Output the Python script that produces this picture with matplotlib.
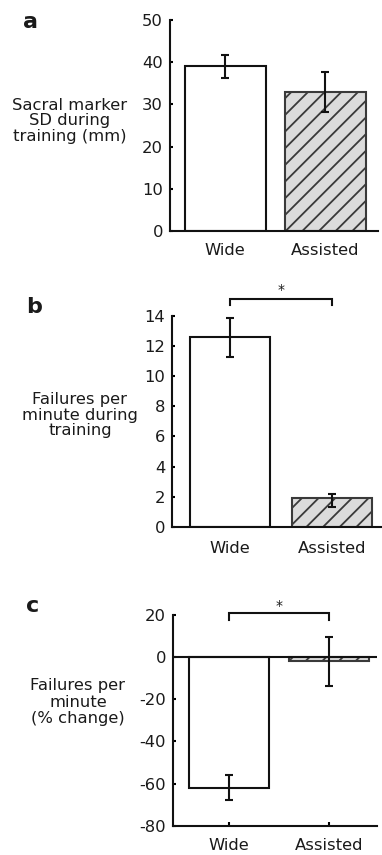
import matplotlib
matplotlib.use("Agg")
import matplotlib.pyplot as plt
import numpy as np

plt.rcParams['font.family'] = ['DejaVu Sans']
plt.rcParams['hatch.linewidth'] = 1.3

categories = ["Wide", "Assisted"]

# panel a: Sacral marker SD during training (mm)
a_vals = [39.0, 33.0]
a_err = [2.7, 4.7]
a_ticks = [0, 10, 20, 30, 40, 50]

# panel b: Failures per minute during training
b_vals = [12.6, 1.9]
b_err_low = [1.3, 0.6]
b_err_high = [1.3, 0.27]
b_ticks = [0, 2, 4, 6, 8, 10, 12, 14]

# panel c: Failures per minute (% change)
c_vals = [-62.0, -2.0]
c_err = [6.0, 11.7]
c_ticks = [-80, -60, -40, -20, 0, 20]

W, H = 382, 855
DPI = 100
fig = plt.figure(figsize=(W / DPI, H / DPI), dpi=DPI)

TXT = '#1a1a1a'
LW = 1.5
FS = 11.8


def px_axes(left, right, top, bottom):
    return fig.add_axes([left / W, 1 - bottom / H, (right - left) / W, (bottom - top) / H])


def ftext(x, y, s, **kw):
    fig.text(x / W, 1 - y / H, s, color=TXT, **kw)


def style(ax, ticks, xpad, xticks_in=False):
    for s in ['top', 'right']:
        ax.spines[s].set_visible(False)
    for s in ['left', 'bottom']:
        ax.spines[s].set_linewidth(LW)
        ax.spines[s].set_color('#111111')
    ax.set_yticks(ticks)
    ax.set_yticklabels([str(t) for t in ticks], fontsize=FS, color=TXT)
    ax.tick_params(axis='y', direction='in', length=2.5, width=LW, pad=5)
    x = np.arange(len(categories))
    ax.set_xticks(x)
    ax.set_xticklabels(categories, fontsize=FS, color=TXT)
    if xticks_in:
        ax.tick_params(axis='x', direction='in', length=3, width=LW, pad=xpad)
    else:
        ax.tick_params(axis='x', length=0, pad=xpad)


def draw_bars(ax, vals, yerr, width):
    x = np.arange(len(categories))
    ax.bar(x[0], vals[0], width=width, color='white', edgecolor='#111111', linewidth=LW, zorder=2)
    ax.bar(x[1], vals[1], width=width, color='#dcdcdc', edgecolor='#3a3a3a', linewidth=LW,
           hatch='//', zorder=2)
    ax.errorbar(x, vals, yerr=yerr, fmt='none', ecolor='#111111', elinewidth=LW,
                capsize=3, capthick=LW, zorder=3)


def bracket(ax, y_line, y_end, y_star):
    ax.plot([0, 0, 1, 1], [y_end, y_line, y_line, y_end], color='#111111', lw=LW,
            clip_on=False, solid_joinstyle='miter')
    ax.text(0.5, y_star, '*', ha='center', va='center', fontsize=10, color=TXT, clip_on=False)


# ---- panel a ----
axa = px_axes(170, 378, 20, 231)
draw_bars(axa, a_vals, a_err, 0.81)
axa.set_ylim(0, 50)
axa.set_xlim(-0.55, 1.53)
style(axa, a_ticks, xpad=8.5)
ftext(23, 28, 'a', fontsize=16, fontweight='bold', ha='left', va='baseline')
ftext(70, 121, 'Sacral marker\nSD during\ntraining (mm)', fontsize=FS, ha='center',
      va='center', multialignment='center', linespacing=1.05)

# ---- panel b ----
axb = px_axes(172, 382, 316, 526.7)
draw_bars(axb, b_vals, [b_err_low, b_err_high], 0.79)
axb.set_ylim(0, 14)
axb.set_xlim(-0.57, 1.49)
style(axb, b_ticks, xpad=10)
bracket(axb, 15.1, 14.75, 15.75)
ftext(26, 313, 'b', fontsize=16, fontweight='bold', ha='left', va='baseline')
ftext(80, 415, 'Failures per\nminute during\ntraining', fontsize=FS, ha='center',
      va='center', multialignment='center', linespacing=1.05)

# ---- panel c ----
axc = px_axes(173, 377, 615, 825.7)
draw_bars(axc, c_vals, c_err, 0.8)
axc.axhline(0, color='#111111', lw=LW, zorder=4)
axc.set_ylim(-80, 20)
axc.set_xlim(-0.56, 1.48)
style(axc, c_ticks, xpad=9, xticks_in=True)
bracket(axc, 20.8, 17.6, 24.5)
ftext(26, 612, 'c', fontsize=16, fontweight='bold', ha='left', va='baseline')
ftext(78, 702, 'Failures per\nminute\n(% change)', fontsize=FS, ha='center',
      va='center', multialignment='center', linespacing=1.1)

fig.savefig('out.png', dpi=DPI, facecolor='white')
